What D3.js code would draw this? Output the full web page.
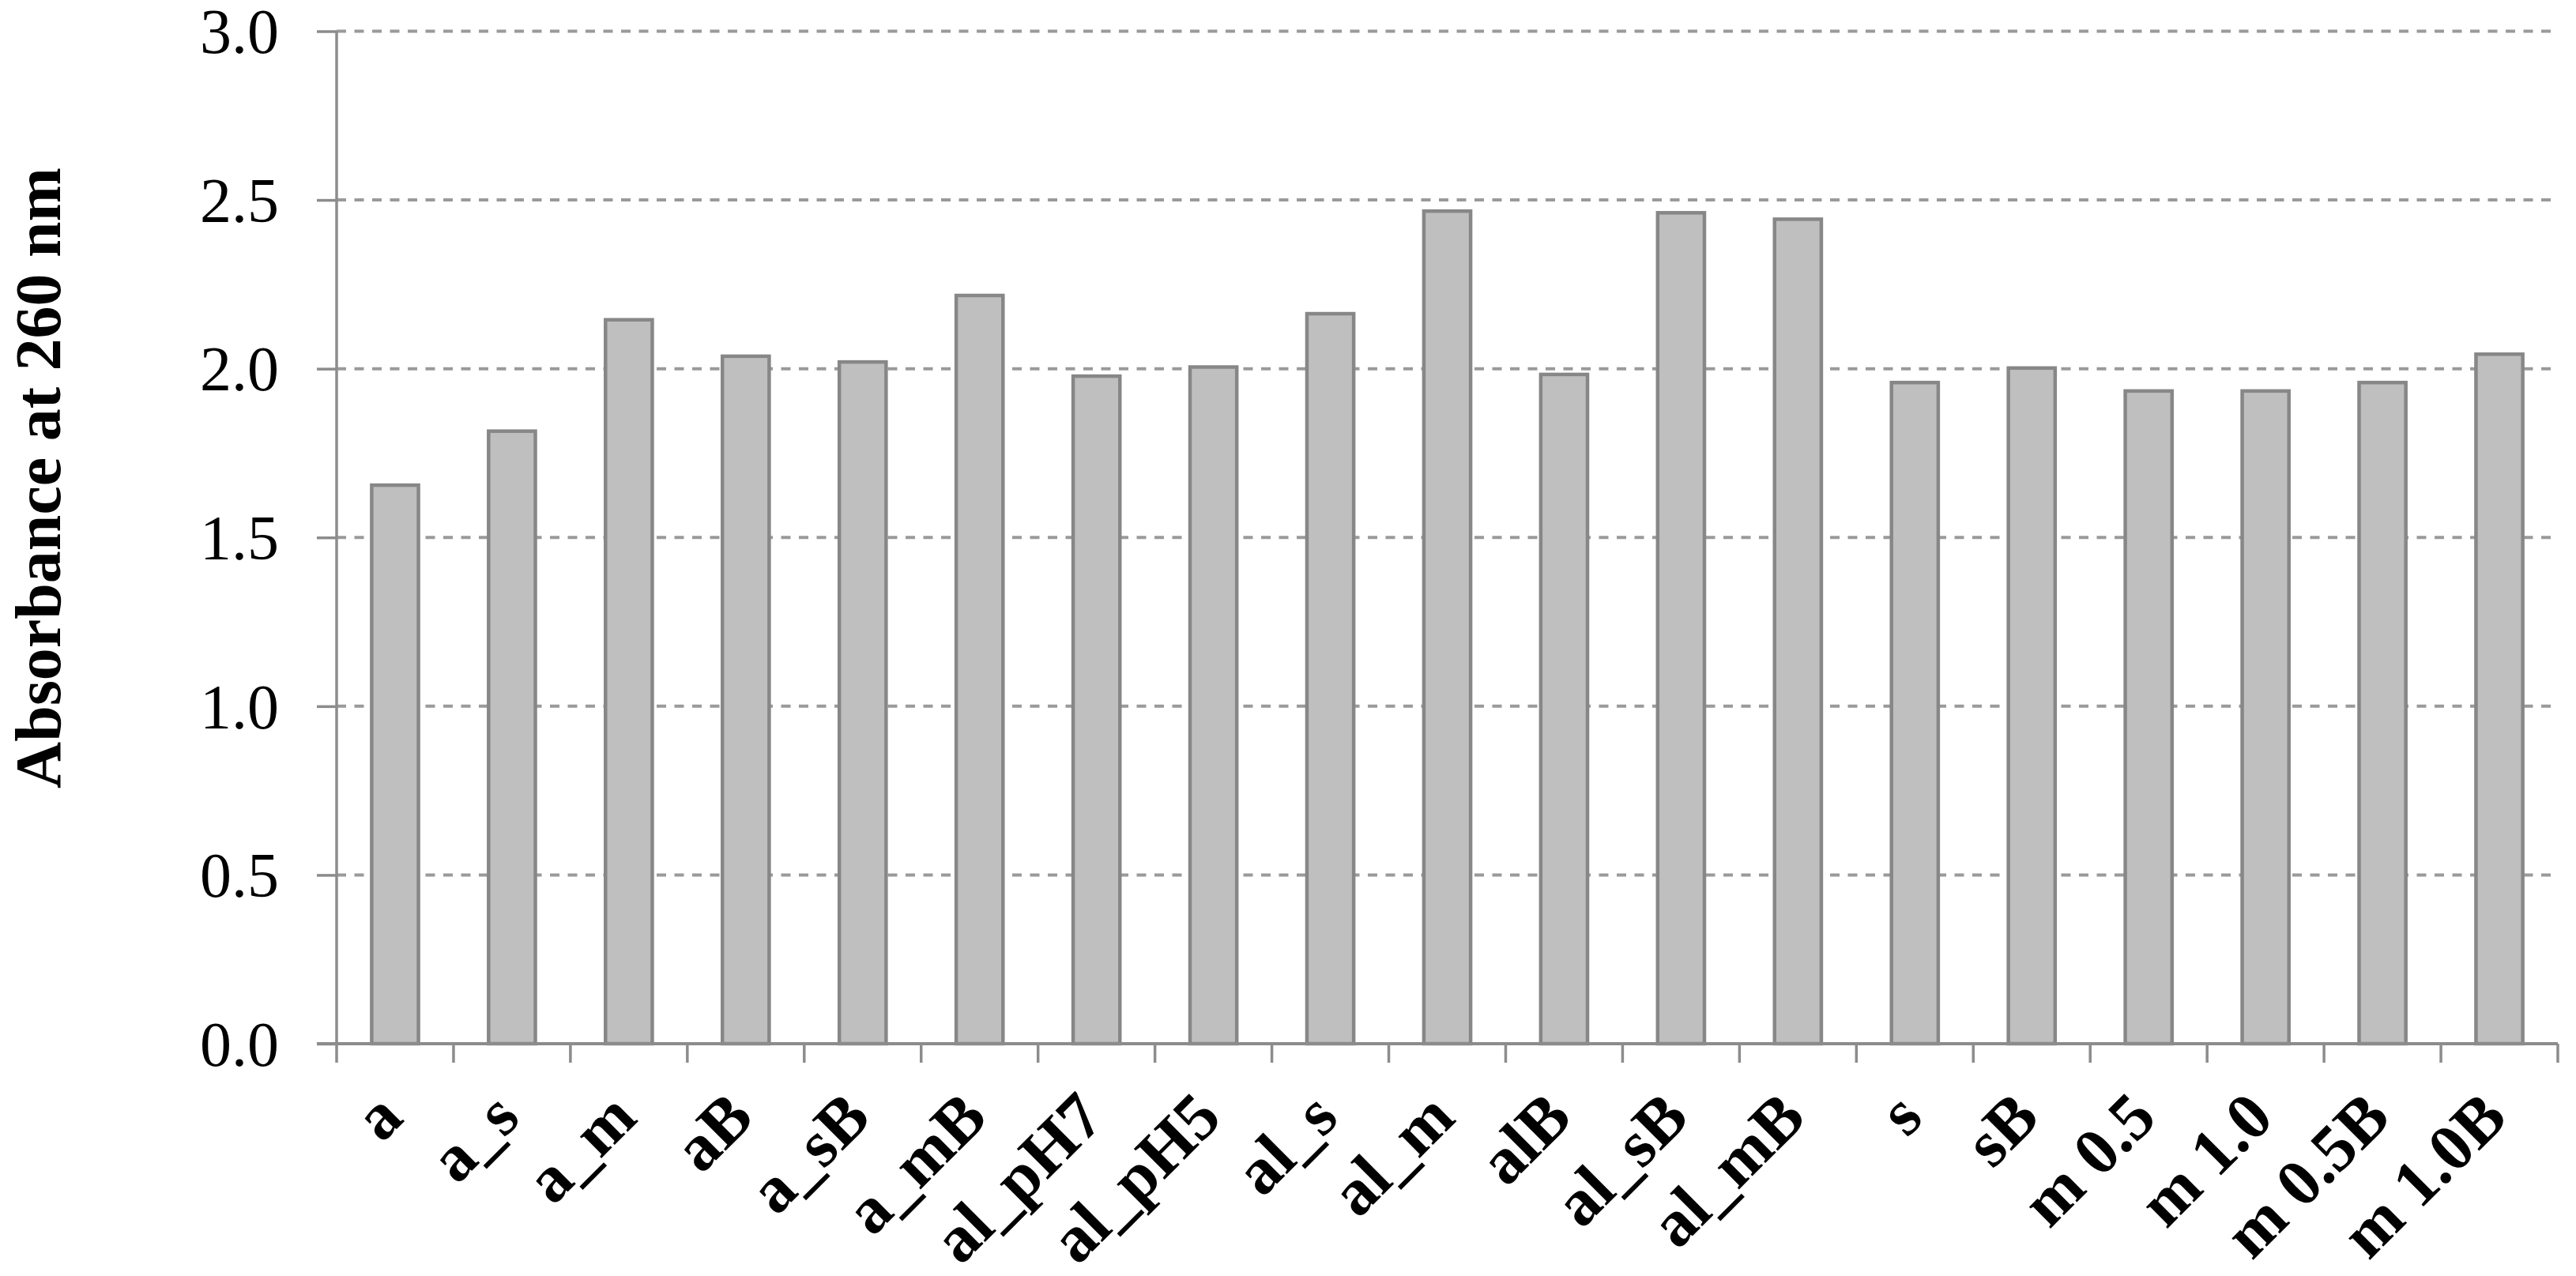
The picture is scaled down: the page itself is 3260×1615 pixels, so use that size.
<!DOCTYPE html>
<html>
<head>
<meta charset="utf-8">
<script src="https://cdn.jsdelivr.net/npm/d3@7"></script>
<style>
  body { margin: 0; background: #fff; }
  svg { display: block; }
</style>
</head>
<body>
<div id="chart"></div>
<script>
// Sample names along the x axis
var categories = ["a", "a_s", "a_m", "aB", "a_sB", "a_mB", "al_pH7", "al_pH5", "al_s", "al_m",
                  "alB", "al_sB", "al_mB", "s", "sB", "m 0.5", "m 1.0", "m 0.5B", "m 1.0B"];

// Absorbance readings at 260 nm
var absorbance = [1.655, 1.815, 2.145, 2.037, 2.020, 2.217, 1.978, 2.005, 2.163, 2.467,
                  1.983, 2.462, 2.443, 1.959, 2.002, 1.934, 1.934, 1.959, 2.043];

// Y axis ticks
var yTicks = [0, 0.5, 1.0, 1.5, 2.0, 2.5, 3.0];

var width = 3260, height = 1615;
//Plot area edges (note: "top" is reserved on window, so prefix them)
var plotLeft = 426, plotRight = 3237, plotTop = 39.5, plotBottom = 1321;
var serif = "'Liberation Serif', 'Times New Roman', serif";

var svg = d3.select("#chart").append("svg")
    .attr("width", width)
    .attr("height", height);

svg.append("rect").attr("width", width).attr("height", height).attr("fill", "#fff");

var x = d3.scaleBand()
    .domain(categories)
    .range([plotLeft, plotRight])
    .paddingInner(0.6)
    .paddingOuter(0.3);

var y = d3.scaleLinear()
    .domain([0, 3])
    .range([plotBottom, plotTop]);

//Dashed gridlines
svg.append("g").selectAll("line")
    .data(yTicks.filter(d => d > 0))
    .enter()
    .append("line")
    .attr("x1", plotLeft)
    .attr("x2", plotRight)
    .attr("y1", d => y(d))
    .attr("y2", d => y(d))
    .attr("stroke", "#9a9a9a")
    .attr("stroke-width", 4)
    .attr("stroke-dasharray", "12,10.5");

//Bars
svg.append("g").selectAll("rect")
    .data(absorbance)
    .enter()
    .append("rect")
    .attr("x", (d, i) => x(categories[i]))
    .attr("y", d => y(d))
    .attr("width", x.bandwidth())
    .attr("height", d => y(0) - y(d))
    .attr("fill", "#bfbfbf")
    .attr("stroke", "#878787")
    .attr("stroke-width", 4.5);

//Y axis
var yAxis = d3.axisLeft(y)
    .tickValues(yTicks)
    .tickFormat(d3.format(".1f"))
    .tickSize(25)
    .tickPadding(48);

var gy = svg.append("g")
    .attr("transform", "translate(" + plotLeft + ",0)")
    .call(yAxis);

gy.select(".domain").attr("stroke", "#8c8c8c").attr("stroke-width", 3.5)
    .attr("d", "M0," + plotTop + "V" + plotBottom);
gy.selectAll(".tick line").attr("stroke", "#8c8c8c").attr("stroke-width", 3.5);
gy.selectAll(".tick text")
    .attr("fill", "#000")
    .style("font-family", serif)
    .style("font-size", "80px")
    .attr("dy", "0.34em");

//X axis: ticks sit on the category boundaries
var xAxis = svg.append("g").attr("class", "x-axis");

xAxis.append("line")
    .attr("x1", plotLeft - 25)
    .attr("x2", plotRight)
    .attr("y1", plotBottom)
    .attr("y2", plotBottom)
    .attr("stroke", "#8c8c8c")
    .attr("stroke-width", 4);

var boundaries = categories.map(c => x(c) - x.step() * 0.3).concat([plotRight]);

xAxis.selectAll(".xtick")
    .data(boundaries)
    .enter()
    .append("line")
    .attr("class", "xtick")
    .attr("x1", d => d)
    .attr("x2", d => d)
    .attr("y1", plotBottom)
    .attr("y2", plotBottom + 24)
    .attr("stroke", "#8c8c8c")
    .attr("stroke-width", 3.5);

//Rotated category labels
xAxis.selectAll(".xlabel")
    .data(categories)
    .enter()
    .append("text")
    .attr("class", "xlabel")
    .attr("transform", d => "translate(" + (x(d) + x.bandwidth() / 2 + 13) + "," + 1418 + ") rotate(-45)")
    .attr("text-anchor", "end")
    .style("font-family", serif)
    .style("font-weight", "bold")
    .style("font-size", "84px")
    .attr("fill", "#000")
    .text(d => d);

//Y axis title
svg.append("text")
    .attr("transform", "translate(76,605) rotate(-90)")
    .attr("text-anchor", "middle")
    .style("font-family", serif)
    .style("font-weight", "bold")
    .style("font-size", "82px")
    .attr("fill", "#000")
    .text("Absorbance at 260 nm");
</script>
</body>
</html>
